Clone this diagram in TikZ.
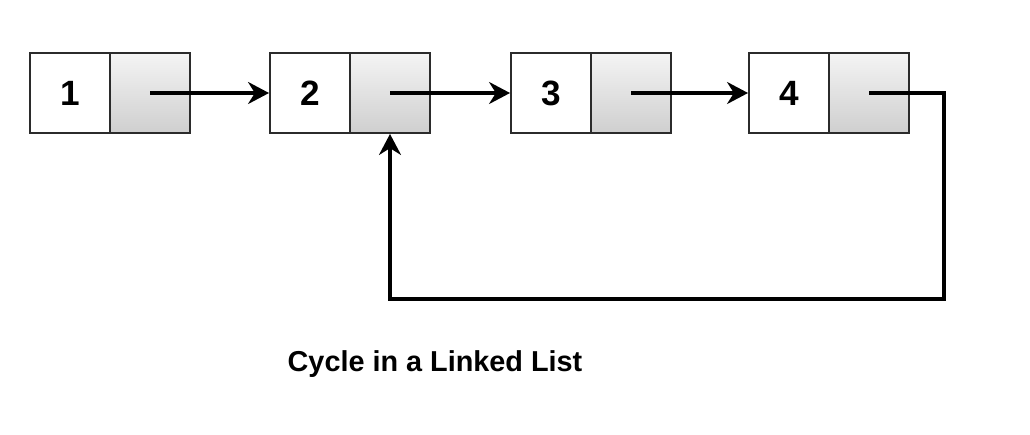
\documentclass[tikz,border=0pt]{standalone}
\usepackage{fontspec}
\setmainfont{Liberation Sans}
\usepackage{xcolor}
\definecolor{cellLine}{HTML}{2B2B2B}
\definecolor{ptrTop}{HTML}{F4F4F4}
\definecolor{ptrBottom}{HTML}{CFCFCF}
\usetikzlibrary{arrows.meta}

\tikzset{
  datacell/.style={draw=cellLine, line width=1.1pt, fill=white, minimum size=1.6cm, inner sep=0pt, font=\bfseries\fontsize{20}{21}\selectfont},
  ptrcell/.style={draw=cellLine, line width=1.1pt, top color=ptrTop, bottom color=ptrBottom, minimum size=1.6cm, inner sep=0pt},
  link/.style={line width=1.8pt, -{Stealth[length=0.42cm, width=0.44cm]}}
}

\begin{document}
\begin{tikzpicture}[x=0.02cm, y=-0.02cm]
  \useasboundingbox (0,0) rectangle (1030,434);
  \node[datacell] (d1) at (70,93) {1};
  \node[ptrcell] (p1) at (150,93) {};
  \node[datacell] (d2) at (310,93) {2};
  \node[ptrcell] (p2) at (390,93) {};
  \node[datacell] (d3) at (551,93) {3};
  \node[ptrcell] (p3) at (631,93) {};
  \node[datacell] (d4) at (789,93) {4};
  \node[ptrcell] (p4) at (869,93) {};
  \draw[link] (p1.center) -- (d2.west);
  \draw[link] (p2.center) -- (d3.west);
  \draw[link] (p3.center) -- (d4.west);
  % back link from the last node to node 2
  \coordinate (turn) at (944,299);
  \draw[link] (p4.center) -| (turn) -| (p2.south);
  \node[font=\bfseries\fontsize{16.4}{18}\selectfont] (caption) at (435,364) {Cycle in a Linked List};
\end{tikzpicture}
\end{document}
